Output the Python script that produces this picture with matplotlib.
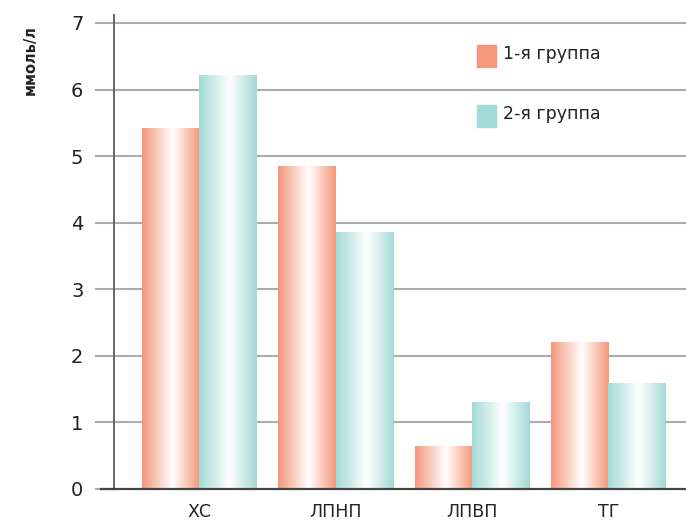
import numpy as np
import matplotlib
matplotlib.use("Agg")
import matplotlib.pyplot as plt
from matplotlib.colors import LinearSegmentedColormap

categories = ["ХС", "ЛПНП", "ЛПВП", "ТГ"]
group1 = [5.42, 4.85, 0.65, 2.21]
group2 = [6.22, 3.86, 1.31, 1.59]
series_names = ["1-я группа", "2-я группа"]
yticks = [0, 1, 2, 3, 4, 5, 6, 7]

plt.rcParams["font.family"] = ["DejaVu Sans"]

c1 = "#F4977A"
c2 = "#A2DAD6"
text_col = "#222222"

fig = plt.figure(figsize=(6.86, 5.22), dpi=100)
ax = fig.add_axes([114 / 686, 1 - 489 / 522, 572 / 686, (489 - 15) / 522])

x = np.arange(len(categories))
w = 0.418


def gradient_cmap(color):
    return LinearSegmentedColormap.from_list(
        "g", [(0.0, color), (0.53, "#ffffff"), (1.0, color)])


grad = np.linspace(0, 1, 256).reshape(1, -1)
for vals, offs, col in [(group1, -w / 2, c1), (group2, w / 2, c2)]:
    bars = ax.bar(x + offs, vals, width=w, color="none", edgecolor="none",
                  zorder=3)
    cmap = gradient_cmap(col)
    for b in bars:
        x0, y0 = b.get_x(), b.get_y()
        im = ax.imshow(grad, cmap=cmap, aspect="auto",
                       extent=[x0, x0 + b.get_width(), y0, y0 + b.get_height()],
                       zorder=3, interpolation="bilinear")
        im.set_clip_path(b)

ax.set_xlim(-0.623, 3.568)
ax.set_ylim(0, 7.12)

# horizontal grid, extended left of the spine as tick marks
for yv in yticks[1:]:
    ax.axhline(yv, color="#acacac", lw=1.5, zorder=1)
ax.set_yticks(yticks)
ax.tick_params(axis="y", length=14, width=1.5, color="#acacac", pad=8,
               labelsize=14, labelcolor=text_col)
ax.set_xticks(x)
ax.set_xticklabels(categories)
ax.tick_params(axis="x", length=0, pad=10, labelsize=12.5, labelcolor=text_col)

for s in ["top", "right"]:
    ax.spines[s].set_visible(False)
ax.spines["left"].set_color("#666666")
ax.spines["left"].set_linewidth(1.4)
ax.spines["bottom"].set_color("#444444")
ax.spines["bottom"].set_linewidth(1.6)
ax.spines["bottom"].set_zorder(5)
ax.spines["left"].set_zorder(5)
# zero line reaches left of the spine like the other ticks
ax.plot([-0.72, -0.623], [0, 0], color="#444444", lw=1.6, clip_on=False,
        zorder=5)

# legend
for i, (name, col) in enumerate(zip(series_names, [c1, c2])):
    yl = 1 - (56 + 60 * i) / 522
    fig.patches.append(plt.Rectangle((477 / 686, yl - 11 / 522), 19 / 686,
                                     22 / 522, transform=fig.transFigure,
                                     color=col))
    fig.text(503 / 686, yl + 2 / 522, name, fontsize=12.5, color=text_col,
             va="center", ha="left")

fig.text(30 / 686, 1 - 60 / 522, "ммоль/л", rotation=90, fontsize=10.5,
         fontweight="bold", color=text_col, va="center", ha="center")

fig.savefig("out.png", dpi=100)
